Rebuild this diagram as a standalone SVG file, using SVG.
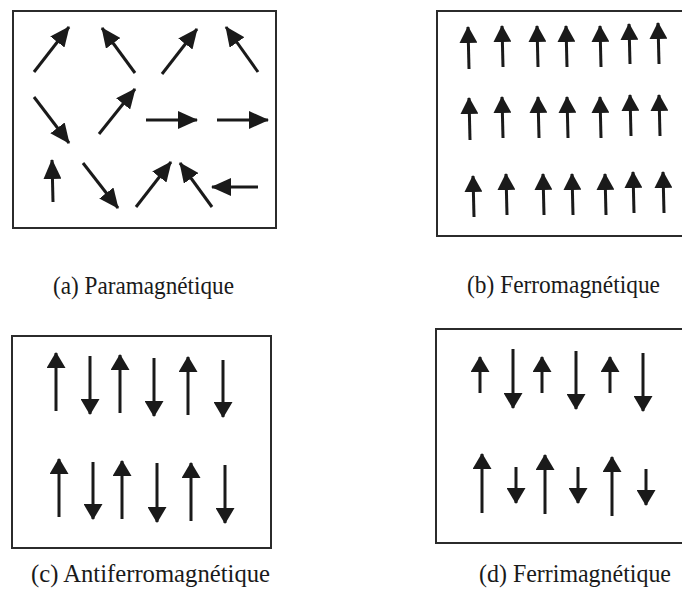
<svg xmlns="http://www.w3.org/2000/svg" width="682" height="593" viewBox="0 0 682 593">
<style>
.box{fill:none;stroke:#2b2b2b;stroke-width:2}
.ar{stroke:#1a1a1a;stroke-width:3;fill:none}
.a{marker-end:url(#hA)}
.b{marker-end:url(#hB)}
.c{marker-end:url(#hC)}
.lbl{font-family:"Liberation Serif","Times New Roman",serif;font-size:24.5px;fill:#1a1a1a}
</style>
<defs>
<marker id="hA" markerUnits="userSpaceOnUse" markerWidth="20" markerHeight="18" refX="19" refY="9" orient="auto"><path d="M0,0 L20,9 L0,18 z" fill="#1a1a1a"/></marker>
<marker id="hB" markerUnits="userSpaceOnUse" markerWidth="17" markerHeight="18" refX="16" refY="9" orient="auto"><path d="M0,0 L17,9 L0,18 z" fill="#1a1a1a"/></marker>
<marker id="hC" markerUnits="userSpaceOnUse" markerWidth="16" markerHeight="19" refX="15" refY="9.5" orient="auto"><path d="M0,0 L16,9.5 L0,19 z" fill="#1a1a1a"/></marker>
</defs>
<rect width="682" height="593" fill="#ffffff"/>

<g id="panel-a">
<rect class="box" x="13" y="11" width="263" height="217"/>
<g class="ar a">
<line x1="34" y1="72" x2="69" y2="27"/>
<line x1="135" y1="73" x2="102" y2="28"/>
<line x1="162" y1="74" x2="197" y2="29"/>
<line x1="258" y1="72" x2="226" y2="27"/>
<line x1="34" y1="97" x2="69" y2="143"/>
<line x1="99" y1="134" x2="135" y2="89"/>
<line x1="146" y1="120" x2="197" y2="120"/>
<line x1="217" y1="120" x2="268" y2="120"/>
<line x1="53" y1="202" x2="52" y2="160"/>
<line x1="83" y1="163" x2="118" y2="208"/>
<line x1="136" y1="207" x2="171" y2="162"/>
<line x1="212" y1="207" x2="180" y2="163"/>
<line x1="258" y1="187" x2="212" y2="187"/>
</g>
</g>

<g id="panel-b">
<rect class="box" x="437" y="11" width="270" height="225"/>
<g class="ar b">
<line x1="469" y1="69" x2="468" y2="27"/>
<line x1="503" y1="67" x2="502" y2="26"/>
<line x1="538" y1="67" x2="537" y2="26"/>
<line x1="567" y1="67" x2="566" y2="26"/>
<line x1="601" y1="67" x2="600" y2="26"/>
<line x1="630" y1="64" x2="629" y2="24"/>
<line x1="659" y1="64" x2="658" y2="23"/>
<line x1="470" y1="140" x2="469" y2="98"/>
<line x1="503" y1="138" x2="502" y2="97"/>
<line x1="539" y1="138" x2="538" y2="97"/>
<line x1="568" y1="138" x2="567" y2="97"/>
<line x1="601" y1="138" x2="600" y2="97"/>
<line x1="631" y1="136" x2="630" y2="95"/>
<line x1="660" y1="136" x2="659" y2="95"/>
<line x1="474" y1="217" x2="473" y2="176"/>
<line x1="507" y1="215" x2="506" y2="174"/>
<line x1="544" y1="215" x2="543" y2="174"/>
<line x1="573" y1="215" x2="572" y2="174"/>
<line x1="606" y1="215" x2="605" y2="174"/>
<line x1="634" y1="213" x2="633" y2="172"/>
<line x1="664" y1="213" x2="663" y2="172"/>
</g>
</g>

<g id="panel-c">
<rect class="box" x="12" y="336" width="259" height="212"/>
<g class="ar c">
<line x1="56" y1="411" x2="56" y2="353"/>
<line x1="90" y1="356" x2="90" y2="414"/>
<line x1="120" y1="413" x2="120" y2="355"/>
<line x1="154" y1="358" x2="154" y2="416"/>
<line x1="188" y1="415" x2="188" y2="357"/>
<line x1="223" y1="360" x2="223" y2="417"/>
<line x1="59" y1="517" x2="59" y2="459"/>
<line x1="93" y1="462" x2="93" y2="519"/>
<line x1="122" y1="519" x2="122" y2="461"/>
<line x1="157" y1="463" x2="157" y2="522"/>
<line x1="191" y1="521" x2="191" y2="463"/>
<line x1="225" y1="465" x2="225" y2="523"/>
</g>
</g>

<g id="panel-d">
<rect class="box" x="436" y="329" width="270" height="214"/>
<g class="ar c">
<line x1="480" y1="393" x2="480" y2="357"/>
<line x1="513" y1="349" x2="513" y2="408"/>
<line x1="542" y1="393" x2="542" y2="357"/>
<line x1="576" y1="351" x2="576" y2="409"/>
<line x1="610" y1="393" x2="610" y2="357"/>
<line x1="643" y1="353" x2="643" y2="411"/>
<line x1="482" y1="513" x2="482" y2="454"/>
<line x1="516" y1="467" x2="516" y2="503"/>
<line x1="545" y1="514" x2="545" y2="455"/>
<line x1="578" y1="467" x2="578" y2="503"/>
<line x1="612" y1="516" x2="612" y2="457"/>
<line x1="646" y1="469" x2="646" y2="505"/>
</g>
</g>

<g id="labels">
<text class="lbl" x="53" y="294" textLength="181" lengthAdjust="spacingAndGlyphs">(a) Paramagnétique</text>
<text class="lbl" x="467" y="293" textLength="193" lengthAdjust="spacingAndGlyphs">(b) Ferromagnétique</text>
<text class="lbl" x="31" y="582" textLength="239" lengthAdjust="spacingAndGlyphs">(c) Antiferromagnétique</text>
<text class="lbl" x="479" y="582" textLength="192" lengthAdjust="spacingAndGlyphs">(d) Ferrimagnétique</text>
</g>
</svg>
